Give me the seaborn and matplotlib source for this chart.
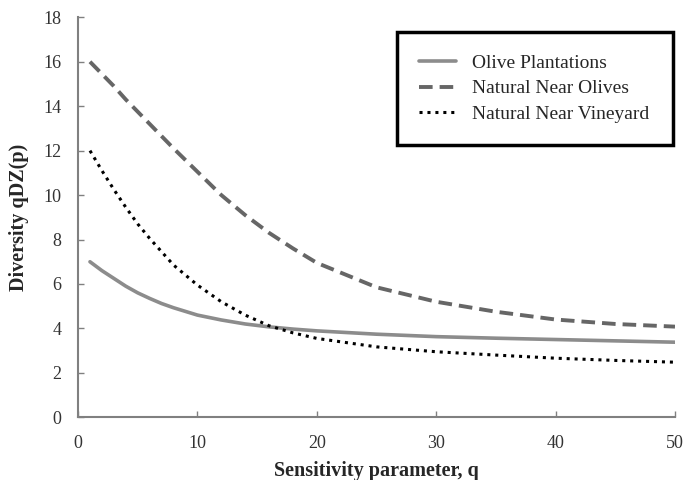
import matplotlib
matplotlib.use("Agg")
import matplotlib.pyplot as plt
import seaborn as sns
import pandas as pd

# values
q = [1, 2, 3, 4, 5, 6, 7, 8, 10, 12, 14, 16, 18, 20, 25, 30, 35, 40, 45, 50]
olive_plantations = [7.0, 6.6, 6.25, 5.9, 5.6, 5.35, 5.12, 4.93, 4.6, 4.38,
                     4.2, 4.07, 3.97, 3.89, 3.74, 3.63, 3.56, 3.5, 3.44, 3.38]
natural_near_olives = [16.0, 15.45, 14.9, 14.3, 13.75, 13.2, 12.65, 12.1, 11.05, 10.0,
                       9.1, 8.3, 7.6, 6.95, 5.85, 5.2, 4.75, 4.4, 4.2, 4.08]
natural_near_vineyard = [12.0, 11.1, 10.25, 9.45, 8.7, 8.05, 7.45, 6.85, 5.95, 5.2,
                         4.6, 4.12, 3.8, 3.55, 3.17, 2.95, 2.8, 2.66, 2.56, 2.48]

df = pd.DataFrame({
    "q": q,
    "Olive Plantations": olive_plantations,
    "Natural Near Olives": natural_near_olives,
    "Natural Near Vineyard": natural_near_vineyard,
})

sns.set_style("ticks")
plt.rcParams["font.family"] = ["Liberation Serif", "DejaVu Serif"]

fig = plt.figure(figsize=(6.93, 4.8), dpi=100)
ax = fig.add_axes([0.1126, 0.1306, 0.8614, 0.8334])

sns.lineplot(data=df, x="q", y="Olive Plantations", ax=ax, color="#8c8c8c",
             linewidth=2.6, label="Olive Plantations")
sns.lineplot(data=df, x="q", y="Natural Near Olives", ax=ax, color="#666666",
             linewidth=2.8, linestyle=(0, (3.5, 1.8)), label="Natural Near Olives")
sns.lineplot(data=df, x="q", y="Natural Near Vineyard", ax=ax, color="black",
             linewidth=2.2, linestyle=(0, (1, 1.6)), label="Natural Near Vineyard")

ax.set_xlim(0, 50)
ax.set_ylim(0, 18)
ax.set_xticks(range(0, 51, 10))
ax.set_yticks(range(0, 19, 2))
ax.tick_params(direction="in", length=4, width=1, color="#808080",
               labelsize=13, labelcolor="#333333")
ax.tick_params(axis="x", pad=13)
ax.tick_params(axis="y", pad=12)
for side in ["left", "bottom"]:
    ax.spines[side].set_color("#808080")
    ax.spines[side].set_linewidth(1.5)
sns.despine(ax=ax)

ax.set_xlabel("Sensitivity parameter, q", fontsize=14.5, fontweight="bold", labelpad=6)
ax.set_ylabel("Diversity qDZ(p)", fontsize=14.5, fontweight="bold", labelpad=10)

leg = ax.legend(loc="upper left", bbox_to_anchor=(0.534, 0.686, 0.463, 0.277),
                mode="expand", fontsize=14, frameon=True, fancybox=False,
                borderpad=1.15, labelspacing=0.4, handlelength=1.9,
                handletextpad=0.8, borderaxespad=0)
leg.get_frame().set_edgecolor("black")
leg.get_frame().set_linewidth(2.5)
leg.get_frame().set_alpha(1)

fig.savefig("out.png", dpi=100)
